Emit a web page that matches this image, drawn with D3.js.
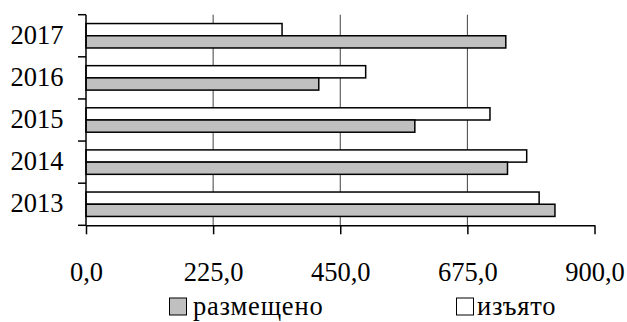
<!DOCTYPE html>
<html>
<head>
<meta charset="utf-8">
<script src="https://cdn.jsdelivr.net/npm/d3@7"></script>
<style>
  body { margin: 0; background: #fff; }
  svg text { font-family: "Liberation Serif", serif; fill: #000; }
</style>
</head>
<body>
<svg id="chart"></svg>
<script>
// data
const years = ["2017", "2016", "2015", "2014", "2013"];
const placed = [743, 412, 582, 746, 830];     // размещено (gray)
const withdrawn = [347, 495, 715, 780, 802];  // изъято (white)
const seriesNames = ["изъято", "размещено"];
const ticks = [0, 225, 450, 675, 900];

const width = 627, height = 322;
const fontFam = "Liberation Serif, serif";

const svg = d3.select("#chart")
    .attr("width", width)
    .attr("height", height);

const x = d3.scaleLinear()
    .domain([0, 900])
    .range([86, 594.5]);

const y = d3.scaleBand()
    .domain(years)
    .range([14.7, 225.3])
    .paddingInner(0.42)
    .paddingOuter(0.21);

const ySub = d3.scaleBand()
    .domain(seriesNames)
    .range([0, y.bandwidth()]);

const fills = { "изъято": "#ffffff", "размещено": "#c0c0c0" };

//grid lines behind the bars
svg.append("g")
    .selectAll("line")
    .data(ticks.slice(1, -1))
    .enter()
    .append("line")
    .attr("x1", d => x(d)).attr("x2", d => x(d))
    .attr("y1", 14.7).attr("y2", 225.3)
    .attr("stroke", "#404040")
    .attr("stroke-width", 1);

// rows of data
const rows = years.map((yr, i) => ({
    year: yr,
    values: [
        { key: "изъято", value: withdrawn[i] },
        { key: "размещено", value: placed[i] }
    ]
}));

const groups = svg.append("g")
    .selectAll("g")
    .data(rows)
    .enter()
    .append("g")
    .attr("transform", d => `translate(0, ${y(d.year)})`);

groups.selectAll("rect")
    .data(d => d.values)
    .enter()
    .append("rect")
    .attr("x", x(0))
    .attr("y", d => ySub(d.key))
    .attr("width", d => x(d.value) - x(0))
    .attr("height", ySub.bandwidth())
    .attr("fill", d => fills[d.key])
    .attr("stroke", "#000")
    .attr("stroke-width", 1.5);

// x axis
const xAxis = svg.append("g")
    .attr("transform", "translate(0, 225.3)")
    .attr("font-family", fontFam)
    .call(d3.axisBottom(x)
        .tickValues(ticks)
        .tickSize(9)
        .tickSizeOuter(0)
        .tickFormat(d => d3.format(".1f")(d).replace(".", ",")));

xAxis.attr("font-family", fontFam).attr("font-size", 26.5);
xAxis.select(".domain").attr("stroke", "#000").attr("stroke-width", 1.5);
xAxis.selectAll(".tick line").attr("stroke", "#000").attr("stroke-width", 1.5);
xAxis.selectAll(".tick text")
    .attr("y", 55.7)
    .attr("dy", null)
    .attr("fill", "#000")
    .style("font-family", fontFam)
    .style("font-size", "26.5px");

// y axis: line plus ticks at band boundaries
const yAxis = svg.append("g");
yAxis.append("line")
    .attr("x1", x(0)).attr("x2", x(0))
    .attr("y1", 14.7).attr("y2", 225.3)
    .attr("stroke", "#000").attr("stroke-width", 1.5);

const step = y.step();
yAxis.selectAll(".ytick")
    .data(d3.range(years.length + 1))
    .enter()
    .append("line")
    .attr("x1", x(0) - 8).attr("x2", x(0))
    .attr("y1", i => 14.7 + i * step)
    .attr("y2", i => 14.7 + i * step)
    .attr("stroke", "#000").attr("stroke-width", 1.5);

yAxis.selectAll(".ylabel")
    .data(years)
    .enter()
    .append("text")
    .attr("x", 63.5)
    .attr("y", d => y(d) + y.bandwidth() / 2 + 8)
    .attr("text-anchor", "end")
    .style("font-family", fontFam)
    .style("font-size", "26.5px")
    .text(d => d);

// legend
const legend = [
    { key: "размещено", x: 169.5, tx: 193 },
    { key: "изъято", x: 456.5, tx: 477 }
];

const lg = svg.append("g")
    .selectAll("g")
    .data(legend)
    .enter()
    .append("g");

lg.append("rect")
    .attr("x", d => d.x)
    .attr("y", 298)
    .attr("width", 17)
    .attr("height", 17)
    .attr("fill", d => fills[d.key])
    .attr("stroke", "#000")
    .attr("stroke-width", 1);

lg.append("text")
    .attr("x", d => d.tx)
    .attr("y", 315)
    .style("font-family", fontFam)
    .style("font-size", "26.5px")
    .style("letter-spacing", "0.8px")
    .text(d => d.key);
</script>
</body>
</html>
